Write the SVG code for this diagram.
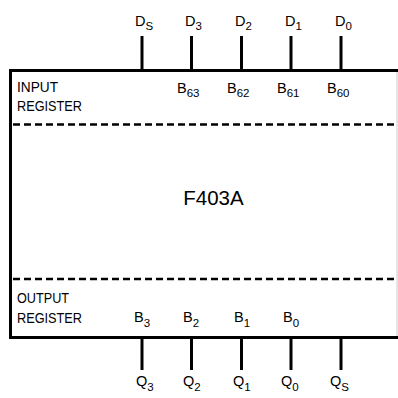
<svg xmlns="http://www.w3.org/2000/svg" width="398" height="398" viewBox="0 0 398 398">
<style>
text{font-family:"Liberation Sans",Arial,sans-serif;fill:#000}
.l{font-size:14.5px}
.s{font-size:11.5px}
.t{font-size:20.5px}
.pin{stroke:#000;stroke-width:3;fill:none}
.dash{stroke:#000;stroke-width:2.5;stroke-dasharray:7 4;fill:none}
</style>
<rect width="398" height="398" fill="#fff"/>
<g id="chip">
<path d="M400 70.5 H10.5 V337.5 H400" fill="none" stroke="#000" stroke-width="3"/>
<line x1="397" y1="72" x2="397" y2="336" stroke="#ccc" stroke-width="1"/>
<line class="dash" x1="13" y1="124.5" x2="398" y2="124.5"/>
<line class="dash" x1="13" y1="279" x2="398" y2="279"/>
<text class="l" x="17" y="92" textLength="41" lengthAdjust="spacingAndGlyphs">INPUT</text>
<text class="l" x="17" y="111" textLength="65" lengthAdjust="spacingAndGlyphs">REGISTER</text>
<text class="l" x="17" y="303" textLength="52" lengthAdjust="spacingAndGlyphs">OUTPUT</text>
<text class="l" x="17" y="323" textLength="65" lengthAdjust="spacingAndGlyphs">REGISTER</text>
<text class="t" x="213.5" y="205" text-anchor="middle">F403A</text>
<text class="l" x="177" y="93">B<tspan class="s" dy="4">63</tspan></text>
<text class="l" x="227" y="93">B<tspan class="s" dy="4">62</tspan></text>
<text class="l" x="277" y="93">B<tspan class="s" dy="4">61</tspan></text>
<text class="l" x="327" y="93">B<tspan class="s" dy="4">60</tspan></text>
<text class="l" x="134" y="322">B<tspan class="s" dy="5">3</tspan></text>
<text class="l" x="183" y="322">B<tspan class="s" dy="5">2</tspan></text>
<text class="l" x="234" y="322">B<tspan class="s" dy="5">1</tspan></text>
<text class="l" x="283" y="322">B<tspan class="s" dy="5">0</tspan></text>
</g>
<g id="connectors">
<line class="pin" x1="142" y1="36" x2="142" y2="70"/>
<line class="pin" x1="191.5" y1="36" x2="191.5" y2="70"/>
<line class="pin" x1="241.5" y1="36" x2="241.5" y2="70"/>
<line class="pin" x1="291" y1="36" x2="291" y2="70"/>
<line class="pin" x1="341" y1="36" x2="341" y2="70"/>
<line class="pin" x1="142" y1="338" x2="142" y2="370"/>
<line class="pin" x1="191.5" y1="338" x2="191.5" y2="370"/>
<line class="pin" x1="241.5" y1="338" x2="241.5" y2="370"/>
<line class="pin" x1="291" y1="338" x2="291" y2="370"/>
<line class="pin" x1="341" y1="338" x2="341" y2="370"/>
</g>
<g id="pin-labels">
<text class="l" x="135" y="26">D<tspan class="s" dy="4">S</tspan></text>
<text class="l" x="185" y="26">D<tspan class="s" dy="4">3</tspan></text>
<text class="l" x="235" y="26">D<tspan class="s" dy="4">2</tspan></text>
<text class="l" x="285" y="26">D<tspan class="s" dy="4">1</tspan></text>
<text class="l" x="335" y="26">D<tspan class="s" dy="4">0</tspan></text>
<text class="l" x="136" y="386">Q<tspan class="s" dy="5">3</tspan></text>
<text class="l" x="183" y="386">Q<tspan class="s" dy="5">2</tspan></text>
<text class="l" x="233" y="386">Q<tspan class="s" dy="5">1</tspan></text>
<text class="l" x="281" y="386">Q<tspan class="s" dy="5">0</tspan></text>
<text class="l" x="330" y="386">Q<tspan class="s" dy="5">S</tspan></text>
</g>
</svg>
